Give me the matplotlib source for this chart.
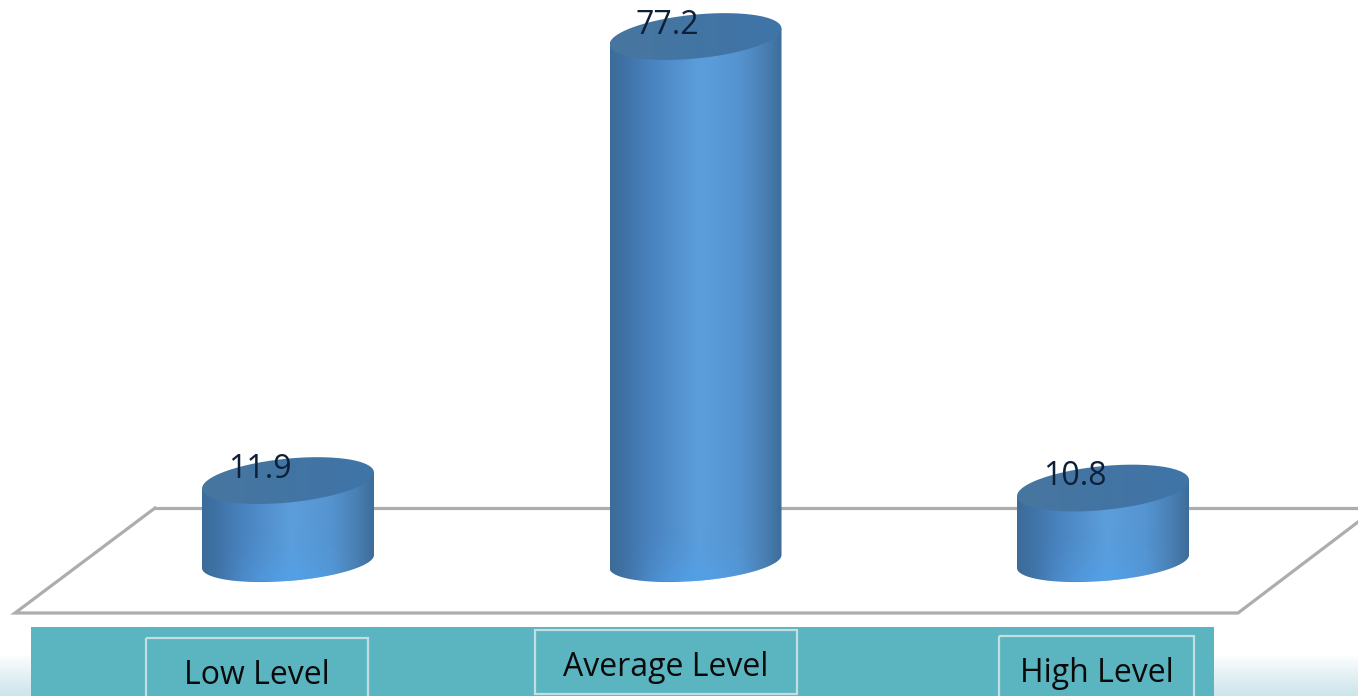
#!/usr/bin/env python3
"""Cylinder bar chart of score levels with a teal label strip underneath."""

import numpy as np
import matplotlib
matplotlib.use("Agg")
import matplotlib.pyplot as plt
from matplotlib.colors import LinearSegmentedColormap, to_rgb
from matplotlib.patches import PathPatch, Polygon, Rectangle
from matplotlib.path import Path

categories = ["Low Level", "Average Level", "High Level"]
values = [11.9, 77.2, 10.8]

W, H = 1358, 696
BASE_PX = 561.5      # pixel row of value 0
PX_PER_UNIT = 6.8
FIRST_X, STEP_X = 288, 407.5

plt.rcParams["font.family"] = ["Open Sans", "DejaVu Sans"]

fig = plt.figure(figsize=(W / 100, H / 100), dpi=100, facecolor="white")

# Backdrop in plain pixel coordinates: floor, label strip, corner fades
bg = fig.add_axes([0, 0, 1, 1], zorder=1)
bg.axis("off")

fade = LinearSegmentedColormap.from_list("fade", ["#ffffff", "#cde5eb"])
ramp = np.linspace(0, 1, 64).reshape(-1, 1) ** 0.9
bg.imshow(ramp, extent=[0, W, H, 654], cmap=fade, aspect="auto", zorder=0)
bg.set_xlim(0, W)
bg.set_ylim(H, 0)

floor = [(155, 508), (1358, 508)], [(155, 508), (15, 613), (1238, 613), (1358, 522)]
for pts in floor:
    xs, ys = zip(*pts)
    bg.plot(xs, ys, color="#adadad", lw=2.3, solid_joinstyle="miter", zorder=1)

bg.add_patch(Rectangle((31, 627), 1183, 69, fc="#5ab5c0", ec="none", zorder=2))
label_boxes = [(146, 638, 222, 70), (535, 630, 262, 64), (999, 636, 195, 70)]
label_y = [675, 667, 673]
for name, (bx, by, bw, bh), ty in zip(categories, label_boxes, label_y):
    bg.add_patch(Rectangle((bx, by), bw, bh, fc="none", ec="#c3dde2", lw=1.6, zorder=3))
    bg.text(bx + bw / 2, ty, name, ha="center", va="center", fontsize=23,
            color="#0a0a0a", zorder=4)

# Chart axes: x in category positions, y in value units
ax = fig.add_axes([0, 0, 1, 1], zorder=2)
ax.patch.set_alpha(0)
xlim = (-FIRST_X / STEP_X, (W - FIRST_X) / STEP_X)
ylim = (-(H - BASE_PX) / PX_PER_UNIT, BASE_PX / PX_PER_UNIT)
ax.axis("off")

body_cmap = LinearSegmentedColormap.from_list(
    "body",
    [(0.0, "#3b6b99"), (0.08, "#3f72a5"), (0.25, "#4a84c0"), (0.52, "#5c9edc"),
     (0.75, "#5594d0"), (0.90, "#4a80b4"), (1.0, "#3d6d99")])
top_cmap = LinearSegmentedColormap.from_list("top", ["#3f74a8", "#47769f"])

half_w = 86 / STEP_X
tilt_top, tilt_bot = 8 / PX_PER_UNIT, 6.5 / PX_PER_UNIT
minor_top, minor_bot = 22 / PX_PER_UNIT, 19.5 / PX_PER_UNIT
t = np.linspace(0, 2 * np.pi, 181)

# Sheen on the lower wall: fades out upward and toward both sides
sheen = np.zeros((64, 128, 4))
sheen[..., :3] = to_rgb("#4ea2ee")
fall_y = np.linspace(0, 1, 64) ** 1.5
fall_x = np.sin(np.linspace(0, np.pi, 128)) ** 1.5
sheen[..., 3] = 0.6 * np.outer(fall_y, fall_x)

for i, v in enumerate(values):
    # Side wall: lower half of the bottom ellipse closed up to the top edge
    tb = np.linspace(np.pi, 2 * np.pi, 91)
    bot_x = i + half_w * np.cos(tb)
    bot_y = tilt_bot * np.cos(tb) + minor_bot * np.sin(tb)
    wall_x = np.r_[i - half_w, bot_x, i + half_w, i - half_w]
    wall_y = np.r_[v - tilt_top, bot_y, v + tilt_top, v - tilt_top]
    wall = Polygon(np.c_[wall_x, wall_y], closed=True, fc="none", ec="none")
    ax.add_patch(wall)

    grad = np.linspace(0, 1, 256).reshape(1, -1)
    im = ax.imshow(grad, extent=[i - half_w, i + half_w, -minor_bot - 2, v + 2],
                   cmap=body_cmap, aspect="auto", zorder=2)
    im.set_clip_path(wall)

    gloss = ax.imshow(sheen, extent=[i - half_w * 0.85, i + half_w * 0.85, -minor_bot, 5],
                      aspect="auto", zorder=2.5)
    gloss.set_clip_path(wall)

    # Top face
    top_x = i + half_w * np.cos(t)
    top_y = v + tilt_top * np.cos(t) + minor_top * np.sin(t)
    face = PathPatch(Path(np.c_[top_x, top_y]), fc="none", ec="none")
    ax.add_patch(face)
    im2 = ax.imshow(np.linspace(1, 0, 64).reshape(1, -1),
                    extent=[i - half_w, i + half_w, v - minor_top - 2, v + minor_top + 2],
                    cmap=top_cmap, aspect="auto", zorder=3)
    im2.set_clip_path(face)

    ax.annotate(f"{v}", xy=(i, v), xytext=(-20, 8), textcoords="offset points",
                ha="center", va="center", fontsize=23, color="#0e1f38", zorder=4)

ax.set_xlim(*xlim)
ax.set_ylim(*ylim)

fig.savefig("out.png", dpi=100)
